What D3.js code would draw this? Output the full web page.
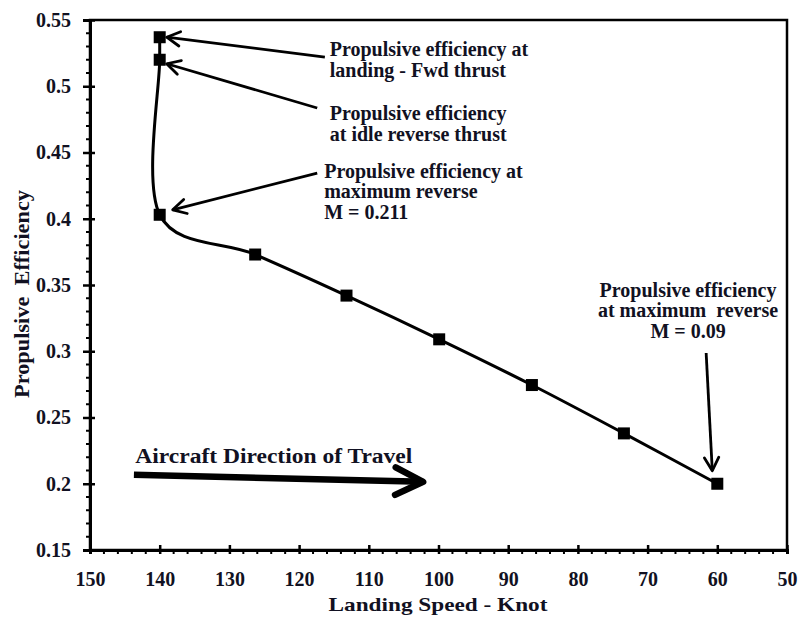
<!DOCTYPE html>
<html>
<head>
<meta charset="utf-8">
<script src="https://cdn.jsdelivr.net/npm/d3@7"></script>
<style>
  body { margin: 0; background: #fff; }
  text { font-family: "Liberation Serif", "Times New Roman", serif; font-weight: bold; fill: #111122; white-space: pre; }
</style>
</head>
<body>
<div id="chart"></div>
<script>
// Landing speed (knot) and propulsive efficiency
const speeds = [140, 140, 140, 126.3, 113.2, 99.9, 86.6, 73.4, 60];
const efficiency = [0.537, 0.52, 0.403, 0.373, 0.342, 0.309, 0.2745, 0.238, 0.2];
const xTicks = [150, 140, 130, 120, 110, 100, 90, 80, 70, 60, 50];
const yTicks = [0.15, 0.2, 0.25, 0.3, 0.35, 0.4, 0.45, 0.5, 0.55];

// annotations: text anchor + arrow start in data units, arrow points at a data point
const notes = [
    { lines: ["Propulsive efficiency at", "landing - Fwd thrust"], tx: 115.6, ty: 0.5228, anchor: "start",
      from: [116.3, 0.522], to: 0, off: [7, 0] },
    { lines: ["Propulsive efficiency", "at idle reverse thrust"], tx: 115.6, ty: 0.4745, anchor: "start",
      from: [117.4, 0.4836], to: 1, off: [7, 4] },
    { lines: ["Propulsive efficiency at", "maximum reverse", "M = 0.211"], tx: 116.4, ty: 0.4308, anchor: "start",
      from: [117.4, 0.4345], to: 2, off: [13, -5] },
    { lines: ["Propulsive efficiency", "at maximum  reverse", "M = 0.09"], tx: 64.2, ty: 0.341, anchor: "middle",
      from: [61.6, 0.2987], to: 8, off: [-5, -13] }
];

const width = 799, height = 617;
const margin = { left: 90, right: 787, top: 20, bottom: 550 };

const svg = d3.select("#chart")
    .append("svg")
    .attr("width", width)
    .attr("height", height);

const x = d3.scaleLinear().domain([150, 50]).range([margin.left, margin.right]);
const y = d3.scaleLinear().domain([0.15, 0.55]).range([margin.bottom, margin.top]);

// frame
svg.append("rect")
    .attr("x", margin.left).attr("y", margin.top)
    .attr("width", margin.right - margin.left).attr("height", margin.bottom - margin.top)
    .attr("fill", "none")
    .attr("stroke", "#000")
    .attr("stroke-width", 2.5);

// minor ticks
svg.append("g").selectAll("line")
    .data(d3.range(150, 49, -2).filter(v => v % 10 !== 0))
    .join("line")
    .attr("x1", d => x(d)).attr("x2", d => x(d))
    .attr("y1", margin.bottom).attr("y2", margin.bottom + 4)
    .attr("stroke", "#000").attr("stroke-width", 2);

svg.append("g").selectAll("line")
    .data(d3.range(15, 56, 1).filter(v => v % 5 !== 0).map(v => v / 100))
    .join("line")
    .attr("x1", margin.left - 4).attr("x2", margin.left + 2)
    .attr("y1", d => y(d)).attr("y2", d => y(d))
    .attr("stroke", "#000").attr("stroke-width", 2);

// x axis
const xAxis = svg.append("g")
    .attr("transform", `translate(0,${margin.bottom})`)
    .call(d3.axisBottom(x).tickValues(xTicks).tickFormat(d3.format("d")).tickSize(4).tickPadding(18));
xAxis.select(".domain").attr("stroke-width", 3);
xAxis.selectAll(".tick line").attr("y1", -5).attr("stroke-width", 2.5);
xAxis.selectAll(".tick text").attr("font-size", 20).attr("fill", "#111122")
    .attr("font-family", "Liberation Serif").attr("font-weight", "bold");

// y axis
const yAxis = svg.append("g")
    .attr("transform", `translate(${margin.left},0)`)
    .call(d3.axisLeft(y).tickValues(yTicks).tickFormat(d => String(+d.toFixed(2))).tickSize(7).tickPadding(12));
yAxis.select(".domain").attr("stroke-width", 3);
yAxis.selectAll(".tick line").attr("x2", 5).attr("x1", -7).attr("stroke-width", 2.5);
yAxis.selectAll(".tick text").attr("font-size", 20).attr("fill", "#111122")
    .attr("font-family", "Liberation Serif").attr("font-weight", "bold");

// axis titles
svg.append("text")
    .attr("x", 438).attr("y", 611)
    .attr("text-anchor", "middle")
    .attr("font-size", 19)
    .attr("textLength", 219).attr("lengthAdjust", "spacingAndGlyphs")
    .text("Landing Speed - Knot");

svg.append("text")
    .attr("transform", "translate(29,294) rotate(-90)")
    .attr("text-anchor", "middle")
    .attr("font-size", 20)
    .attr("textLength", 208).attr("lengthAdjust", "spacingAndGlyphs")
    .text("Propulsive  Efficiency");

// smoothed series line
const pts = speeds.map((s, i) => [x(s), y(efficiency[i])]);
svg.append("path")
    .datum(pts)
    .attr("d", d3.line().curve(d3.curveCatmullRom.alpha(0)))
    .attr("fill", "none")
    .attr("stroke", "#000")
    .attr("stroke-width", 3);

svg.append("g").selectAll("rect")
    .data(pts)
    .join("rect")
    .attr("x", d => d[0] - 6).attr("y", d => d[1] - 6)
    .attr("width", 12).attr("height", 12)
    .attr("fill", "#000");

// arrows
function arrow(x1, y1, x2, y2, w, len, spread) {
    const a = Math.atan2(y2 - y1, x2 - x1);
    svg.append("line")
        .attr("x1", x1).attr("y1", y1).attr("x2", x2).attr("y2", y2)
        .attr("stroke", "#000").attr("stroke-width", w);
    const p1 = [x2 - len * Math.cos(a - spread), y2 - len * Math.sin(a - spread)];
    const p2 = [x2 - len * Math.cos(a + spread), y2 - len * Math.sin(a + spread)];
    svg.append("path")
        .attr("d", `M${p1}L${x2},${y2}L${p2}`)
        .attr("fill", "none").attr("stroke", "#000")
        .attr("stroke-width", w).attr("stroke-linecap", "round").attr("stroke-linejoin", "round");
}

notes.forEach(n => {
    const t = svg.append("text")
        .attr("x", x(n.tx)).attr("y", y(n.ty))
        .attr("text-anchor", n.anchor)
        .attr("font-size", 20);
    n.lines.forEach((l, i) => {
        t.append("tspan").attr("x", x(n.tx)).attr("dy", i ? 20.5 : 0).text(l);
    });
    const p = pts[n.to];
    arrow(x(n.from[0]), y(n.from[1]), p[0] + n.off[0], p[1] + n.off[1], 2.8, 15, 0.5);
});

// direction of travel
svg.append("text")
    .attr("x", x(143.5)).attr("y", y(0.2157))
    .attr("font-size", 20)
    .attr("textLength", 277).attr("lengthAdjust", "spacingAndGlyphs")
    .text("Aircraft Direction of Travel");
arrow(x(143.7), y(0.2068), x(102.2), y(0.2015), 6.5, 31, 0.46);
</script>
</body>
</html>
